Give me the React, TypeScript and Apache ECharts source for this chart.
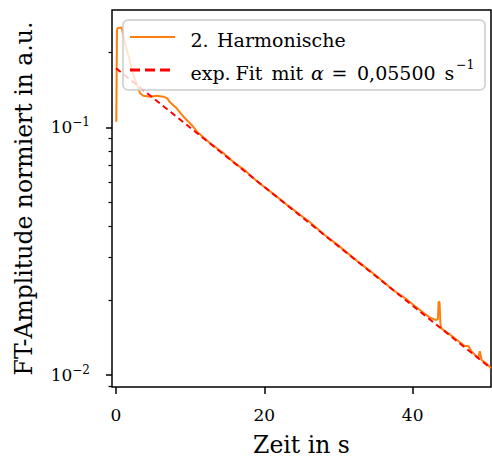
import React, { useEffect, useRef } from "react";
import * as echarts from "echarts";

// ---- data ----
const harmT = [0.04, 0.13, 0.27, 0.44, 0.77, 0.98, 1.28, 1.66, 2.33, 3.01, 3.24, 3.68, 4.58, 5.49, 6.38, 6.92, 7.28, 8.18, 9.3, 10.2, 11.0, 12.5, 14.5, 16.0, 17.4, 19.0, 21.0, 23.5, 26.2, 28.0, 30.0, 32.5, 35.0, 37.5, 39.0, 40.5, 41.5, 42.3, 43.1, 43.4, 43.5, 43.62, 43.75, 43.9, 45.0, 46.2, 47.0, 47.5, 48.0, 48.85, 49.05, 49.3, 50.0, 50.56];
const harmV = [0.1053, 0.2471, 0.2518, 0.2525, 0.2525, 0.2359, 0.2148, 0.1957, 0.1626, 0.1437, 0.1372, 0.1341, 0.1329, 0.1341, 0.1329, 0.1309, 0.1261, 0.1193, 0.1087, 0.1022, 0.0955, 0.0873, 0.0785, 0.0717, 0.067, 0.0606, 0.0545, 0.0475, 0.0413, 0.037, 0.0333, 0.0289, 0.0253, 0.0219, 0.0204, 0.0188, 0.0178, 0.0171, 0.0167, 0.0168, 0.0198, 0.0197, 0.016, 0.0154, 0.0146, 0.0137, 0.0131, 0.0131, 0.0124, 0.0117, 0.0125, 0.0115, 0.0111, 0.01066];
const fitT = [0, 25, 50.56];
const fitV = [0.173, 0.0436, 0.01065];

const xTicks = [0, 20, 40];
const yMajorExp = [-2, -1];
const yMinorVals = [0.009, 0.02, 0.03, 0.04, 0.05, 0.06, 0.07, 0.08, 0.09, 0.2];

const S1 = "2. Harmonische";
const S2 = "exp. Fit mit α = 0,05500 s⁻¹";
const xName = "Zeit in s";
const yName = "FT-Amplitude normiert in a.u.";

const X_MIN = -0.54;
const X_MAX = 50.56;
const LOG_MIN = -2.048;
const LOG_MAX = -0.5266;

const FONT = "DejaVu Serif";
const ORANGE = "#ff7f0e";
const RED = "#ff0000";

export default function App() {
  const ref = useRef<HTMLDivElement>(null);

  useEffect(() => {
    if (!ref.current) return;
    const chart = echarts.init(ref.current, undefined, { renderer: "svg" });

    const harmData = harmT.map((t, i) => [t, harmV[i]]);
    const fitData = fitT.map((t, i) => [t, fitV[i]]);

    const txt = (text: string, x: number, y: number, size = 19, italic = false) => ({
      type: "text",
      x,
      y,
      z: 102,
      silent: true,
      style: {
        text,
        fontFamily: FONT,
        fontSize: size,
        fontStyle: italic ? "italic" : "normal",
        fill: "#000",
        align: "left",
        verticalAlign: "middle",
      },
    });

    const row1 = 40;
    const row2 = 73.4;

    const legendGraphic = [
      {
        type: "rect",
        z: 100,
        silent: true,
        shape: { x: 123, y: 20, width: 362, height: 70, r: 5 },
        style: { fill: "rgba(255,255,255,0.8)", stroke: "#cccccc", lineWidth: 1.5 },
      },
      {
        type: "line",
        z: 101,
        silent: true,
        shape: { x1: 130, y1: 37, x2: 175, y2: 37 },
        style: { stroke: ORANGE, lineWidth: 2.2 },
      },
      {
        type: "line",
        z: 101,
        silent: true,
        shape: { x1: 130, y1: 70, x2: 175, y2: 70 },
        style: { stroke: RED, lineWidth: 3, lineDash: [10, 5] },
      },
      txt("2.", 190.5, row1),
      txt("Harmonische", 217, row1),
      txt("exp.", 190.5, row2),
      txt("Fit", 235.5, row2),
      txt("mit", 271.5, row2),
      txt("α", 311, row2, 19, true),
      txt("=", 331.5, row2),
      txt("0,05500", 357, row2),
      txt("s", 444.5, row2),
      txt("−1", 456, row2 - 8.5, 12.5),
    ];

    const option: any = {
      animation: false,
      backgroundColor: "#fff",
      textStyle: { fontFamily: FONT },
      grid: {
        left: 112,
        right: 1,
        top: 10,
        bottom: 71,
        show: true,
        borderColor: "#000",
        borderWidth: 1.5,
        containLabel: false,
        outerBoundsMode: "none",
      },
      graphic: legendGraphic,
      xAxis: [
        {
          type: "value",
          min: X_MIN,
          max: X_MAX,
          axisLine: { show: false },
          splitLine: { show: false },
          axisTick: {
            show: true,
            customValues: xTicks,
            length: 7,
            lineStyle: { color: "#000", width: 1.5 },
          },
          axisLabel: {
            customValues: xTicks,
            margin: 19,
            fontFamily: FONT,
            fontSize: 17,
            color: "#000",
          },
          name: xName,
          nameLocation: "middle",
          nameGap: 46,
          nameMoveOverlap: false,
          nameTextStyle: { fontFamily: FONT, fontSize: 23.5, color: "#000" },
        },
      ],
      yAxis: [
        {
          type: "log",
          logBase: 10,
          min: Math.pow(10, LOG_MIN),
          max: Math.pow(10, LOG_MAX),
          show: false,
          splitLine: { show: false },
        },
        {
          type: "value",
          position: "left",
          min: LOG_MIN,
          max: LOG_MAX,
          axisLine: { show: false },
          splitLine: { show: false },
          axisTick: {
            show: true,
            customValues: yMajorExp,
            length: 6,
            lineStyle: { color: "#000", width: 1.5 },
          },
          axisLabel: {
            customValues: yMajorExp,
            margin: 22,
            fontFamily: FONT,
            fontSize: 17,
            color: "#000",
            formatter: (v: number) => "{b|10}{s|−" + Math.abs(Math.round(v)) + "}",
            rich: {
              b: { fontFamily: FONT, fontSize: 17, lineHeight: 22, color: "#000" },
              s: { fontFamily: FONT, fontSize: 12, lineHeight: 12, color: "#000", verticalAlign: "top" },
            },
          },
          name: yName,
          nameLocation: "middle",
          nameGap: 76.5,
          nameMoveOverlap: false,
          nameTextStyle: { fontFamily: FONT, fontSize: 23.5, color: "#000" },
        },
        {
          type: "value",
          position: "left",
          min: LOG_MIN,
          max: LOG_MAX,
          axisLine: { show: false },
          splitLine: { show: false },
          axisTick: {
            show: true,
            customValues: yMinorVals.map((v) => Math.log10(v)),
            length: 3.5,
            lineStyle: { color: "#000", width: 1.2 },
          },
          axisLabel: { show: false },
        },
      ],
      series: [
        {
          name: S1,
          type: "line",
          xAxisIndex: 0,
          yAxisIndex: 0,
          data: harmData,
          symbol: "none",
          showSymbol: false,
          lineStyle: { color: ORANGE, width: 2 },
          itemStyle: { color: ORANGE },
          z: 2,
        },
        {
          name: S2,
          type: "line",
          xAxisIndex: 0,
          yAxisIndex: 0,
          data: fitData,
          symbol: "none",
          showSymbol: false,
          lineStyle: { color: RED, width: 2, type: [6, 4] },
          itemStyle: { color: RED },
          z: 3,
        },
      ],
    };

    chart.setOption(option);
    return () => chart.dispose();
  }, []);

  return (
    <div
      ref={ref}
      style={{ position: "fixed", left: 0, top: 0, width: 492, height: 458 }}
    />
  );
}
